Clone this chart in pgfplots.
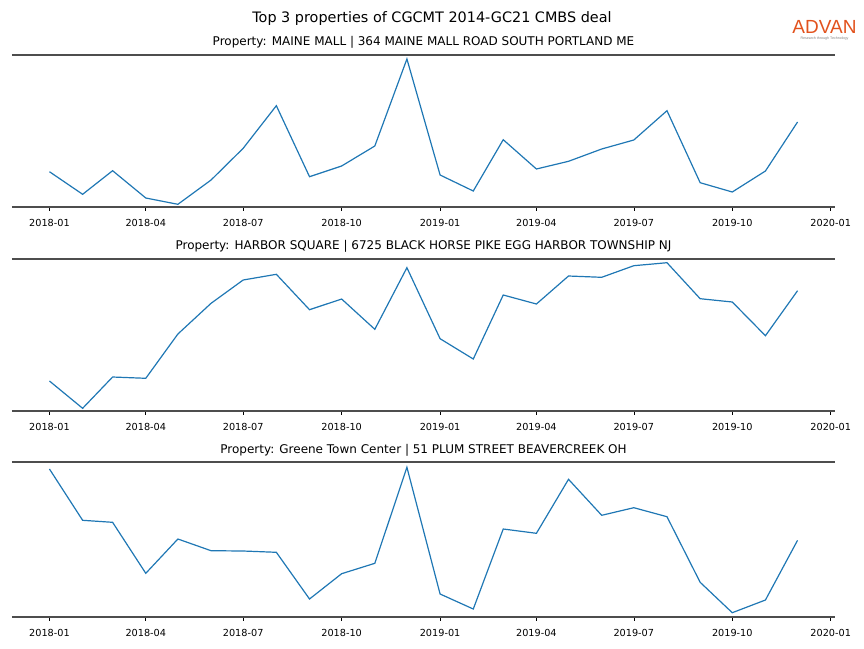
\documentclass[border=0pt]{standalone}
\usepackage{pgfplots}
\pgfplotsset{compat=1.18}
\usepackage{fontspec}
\setmainfont{DejaVu Sans}
\newfontfamily\logofont{Liberation Sans}
\definecolor{mplblue}{HTML}{1F77B4}
\definecolor{spine}{HTML}{4D4D4D}
\definecolor{advan}{HTML}{E2521D}

\pgfplotstableread{
d v
0 35.3
31 12.7
59 36.3
90 9
120 2.7
151 27
181 58.7
212 101.3
243 30.3
273 41
304 61
334 148
365 32
396 16
424 67.3
455 38
485 45.7
516 58
546 67
577 96.3
608 24.3
638 15
669 36
699 85
}\maine

\pgfplotstableread{
d v
0 30
31 2.7
59 34
90 32.7
120 77
151 107.7
181 131
212 136.7
243 101.3
273 112
304 81.7
334 143.3
365 72.3
396 52
424 116
455 107
485 135
516 133.7
546 145.3
577 148.3
608 112.3
638 109
669 75.3
699 120.3
}\harbor

\pgfplotstableread{
d v
0 148
31 96.7
59 94.7
90 43.7
120 78
151 66.3
181 66
212 64.7
243 18
273 43.3
304 53.7
334 149.7
365 23
396 8
424 88
455 83.7
485 137.7
516 101.7
546 109.3
577 100.3
608 34.7
638 4.3
669 17
699 76.7
}\greene

\pgfplotsset{
  panel/.style={
    scale only axis,
    width=823pt,
    anchor=south west,
    xmin=-35, xmax=734,
    separate axis lines,
    y axis line style={draw=none},
    x axis line style={draw=spine, line width=1.5pt},
    ytick=\empty,
    xtick={0,90,181,273,365,455,546,638,730},
    xticklabels={2018-01,2018-04,2018-07,2018-10,2019-01,2019-04,2019-07,2019-10,2020-01},
    xtick pos=lower,
    tick align=outside,
    major tick length=3.5pt,
    xtick style={draw=black, line width=0.6pt},
    tick label style={font=\fontsize{9.7}{11}\selectfont, text=black},
    xticklabel shift=5pt,
    clip=false,
  },
  bluel/.style={color=mplblue, line width=1.2pt, no markers},
}

\begin{document}
\begin{tikzpicture}
\path[use as bounding box] (0,0) rectangle (864pt,-648pt);

\node[font=\fontsize{14.4}{16}\selectfont] at (432pt,-19pt) {Top 3 properties of CGCMT 2014-GC21 CMBS deal};
\node[font=\fontsize{19}{20}\selectfont\logofont, text=advan, inner sep=0pt] at (824.5pt,-27pt) {ADVAN};
\node[font=\fontsize{3.6}{4}\selectfont\logofont, text=gray, inner sep=0pt] at (824.5pt,-38.5pt) {Research through Technology};

\node[font=\fontsize{12}{14}\selectfont] at (423.5pt,-42pt) {Property: MAINE MALL | 364 MAINE MALL ROAD SOUTH PORTLAND ME};
\node[font=\fontsize{12}{14}\selectfont] at (423.5pt,-246pt) {Property: HARBOR SQUARE | 6725 BLACK HORSE PIKE EGG HARBOR TOWNSHIP NJ};
\node[font=\fontsize{12}{14}\selectfont] at (423.5pt,-450pt) {Property: Greene Town Center | 51 PLUM STREET BEAVERCREEK OH};

\begin{axis}[panel, at={(12pt,-207pt)}, height=152pt, ymin=0, ymax=152]
\addplot[bluel] table[x=d, y=v] {\maine};
\end{axis}

\begin{axis}[panel, at={(12pt,-411pt)}, height=152pt, ymin=0, ymax=152]
\addplot[bluel] table[x=d, y=v] {\harbor};
\end{axis}

\begin{axis}[panel, at={(12pt,-617pt)}, height=155pt, ymin=0, ymax=155]
\addplot[bluel] table[x=d, y=v] {\greene};
\end{axis}
\end{tikzpicture}
\end{document}
